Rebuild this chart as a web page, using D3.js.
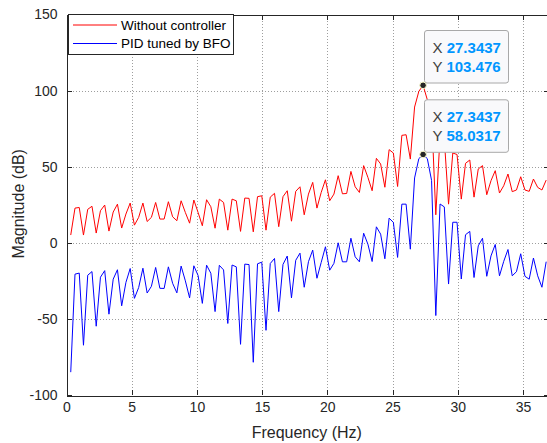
<!DOCTYPE html>
<html lang="en">
<head>
<meta charset="utf-8">
<script src="https://d3js.org/d3.v7.min.js"></script>
<style type="text/css">
body {
	margin: 0;
	background-color: #fff;
	font-family: "Liberation Sans", Arial, Helvetica, sans-serif;
}
.axis text {
	font: 14px "Liberation Sans", Arial, sans-serif;
	fill: #262626;
}
.axis line {
	stroke: #262626;
	shape-rendering: crispEdges;
}
.grid line {
	stroke: #9e9e9e;
	stroke-dasharray: 1.5,1.5;
	shape-rendering: crispEdges;
}
</style>
</head>
<body>
<div class="chart"></div>
<script type="text/javascript">
// spectrum bins (Hz), first plotted bin is k = 1
var df = 27.34375 / 84;

// magnitude (dB), without controller
var withoutCtrl = [5.1, 22.8, 23.2, 5.1, 22.0, 24.0, 6.4, 21.1, 24.8, 7.7,
	20.2, 25.4, 9.7, 18.9, 26.1, 11.6, 16.7, 26.1, 14.0, 16.7,
	26.5, 15.6, 15.6, 27.0, 17.1, 14.5, 27.6, 19.9, 12.9, 28.1,
	19.9, 11.2, 28.3, 23.7, 9.6, 28.7, 26.5, 8.3, 28.7, 27.6,
	7.5, 29.4, 29.2, 7.2, 30.3, 30.9, 8.3, 30.0, 32.5, 10.6,
	30.3, 34.2, 14.2, 33.8, 36.8, 18.4, 32.0, 39.7, 22.8, 33.1,
	41.4, 27.6, 32.0, 44.1, 32.2, 32.4, 46.9, 36.8, 33.1, 50.7,
	43.0, 34.2, 55.5, 51.8, 36.5, 61.2, 59.0, 37.0, 70.6, 71.0,
	55.0, 89.2, 99.5, 103.476, 94.0, 85.0, 18.4, 70.0, 68.0, 25.4,
	59.0, 58.0, 28.7, 52.2, 54.4, 30.0, 48.5, 50.7, 31.6, 40.8,
	47.4, 32.7, 37.5, 45.2, 33.6, 34.7, 43.4, 34.7, 33.8, 41.9,
	36.4, 34.7, 41.2];

// magnitude (dB), PID tuned by BFO
var pidBFO = [-85.0, -20.6, -19.9, -67.3, -21.3, -18.9, -54.8, -22.6, -18.3, -46.9,
	-23.9, -17.7, -41.4, -26.0, -16.9, -36.5, -29.4, -16.7, -33.0, -28.6,
	-16.2, -29.9, -30.0, -15.8, -26.6, -32.9, -15.3, -25.0, -36.2, -15.1,
	-21.5, -39.8, -14.7, -20.0, -45.2, -14.8, -17.8, -53.0, -14.6, -15.8,
	-66.7, -14.0, -14.3, -78.5, -13.8, -12.7, -57.5, -13.6, -10.3, -45.2,
	-14.2, -8.7, -36.2, -11.5, -6.8, -29.2, -12.4, -4.8, -23.3, -12.9,
	-2.6, -18.0, -13.5, 0.0, -12.5, -12.5, 3.0, -9.2, -12.5, 6.3,
	-0.9, -12.3, 10.5, 5.7, -10.5, 16.2, 13.4, -9.6, 25.4, 25.4,
	-4.2, 42.6, 55.3, 58.0317, 55.3, 41.0, -47.8, 25.5, 23.6, -27.1,
	13.5, 13.5, -23.8, 5.3, 7.5, -22.8, -2.0, 3.0, -22.0, -8.6,
	-1.1, -21.7, -12.2, -4.4, -21.7, -19.0, -7.2, -22.0, -23.9, -10.0,
	-21.7, -29.2, -12.4];

var seriesNames = ["Without controller", "PID tuned by BFO"];
var seriesColors = ["#ff0000", "#0000ff"];

var xTicks = [0, 5, 10, 15, 20, 25, 30, 35];
var yTicks = [-100, -50, 0, 50, 100, 150];

// data tips at the resonance peak
var tipIndex = 83;
var tipX = ["27.3437", "27.3437"];
var tipY = ["103.476", "58.0317"];

var width = 547, height = 443;
var x0 = 66.5, x1 = 549, yTop = 14.5, yBot = 395;

var x = d3.scaleLinear().domain([0, 37]).range([x0, x1]);
var y = d3.scaleLinear().domain([-100, 150]).range([yBot, yTop]);
var plain = function(d) { return String(d); };

var svg = d3.select(".chart").append("svg")
	.attr("width", width)
	.attr("height", height);

svg.append("defs").append("clipPath").attr("id", "plotclip")
	.append("rect")
	.attr("x", x0).attr("y", yTop)
	.attr("width", x1 - x0).attr("height", yBot - yTop);

// grid
var grid = svg.append("g").attr("class", "grid");
grid.selectAll(".gx").data(xTicks.filter(function(d) { return d > 0; }))
	.enter().append("line")
	.attr("x1", function(d) { return Math.round(x(d)) + 0.5; })
	.attr("x2", function(d) { return Math.round(x(d)) + 0.5; })
	.attr("y1", yTop).attr("y2", yBot);
grid.selectAll(".gy").data(yTicks.filter(function(d) { return d > -100 && d < 150; }))
	.enter().append("line")
	.attr("y1", function(d) { return Math.round(y(d)) + 0.5; })
	.attr("y2", function(d) { return Math.round(y(d)) + 0.5; })
	.attr("x1", x0).attr("x2", x1);

// lines
var line = d3.line()
	.x(function(d, k) { return x((k + 1) * df); })
	.y(function(d) { return y(d); });

var plot = svg.append("g").attr("clip-path", "url(#plotclip)");
[withoutCtrl, pidBFO].forEach(function(s, j) {
	plot.append("path")
		.datum(s)
		.attr("d", line)
		.style("fill", "none")
		.style("stroke", seriesColors[j])
		.style("stroke-width", 1);
});

// axes, ticks inward on all four sides
svg.append("g").attr("class", "axis")
	.attr("transform", "translate(0," + yBot + ")")
	.call(d3.axisBottom(x).tickValues(xTicks).tickFormat(plain).tickSizeInner(-5).tickSizeOuter(0).tickPadding(7))
	.call(function(g) { g.select(".domain").remove(); });
svg.append("g").attr("class", "axis")
	.attr("transform", "translate(0," + yTop + ")")
	.call(d3.axisTop(x).tickValues(xTicks).tickSizeInner(-5).tickSizeOuter(0).tickFormat(""))
	.call(function(g) { g.select(".domain").remove(); });
svg.append("g").attr("class", "axis")
	.attr("transform", "translate(" + x0 + ",0)")
	.call(d3.axisLeft(y).tickValues(yTicks).tickFormat(plain).tickSizeInner(-5).tickSizeOuter(0).tickPadding(9))
	.call(function(g) { g.select(".domain").remove(); });
svg.append("g").attr("class", "axis")
	.attr("transform", "translate(" + x1 + ",0)")
	.call(d3.axisRight(y).tickValues(yTicks).tickSizeInner(-5).tickSizeOuter(0).tickFormat(""))
	.call(function(g) { g.select(".domain").remove(); });

svg.append("rect")
	.attr("x", Math.round(x0) + 0.5).attr("y", Math.round(yTop) + 0.5)
	.attr("width", Math.round(x1 - x0)).attr("height", Math.round(yBot - yTop))
	.style("fill", "none")
	.style("stroke", "#262626")
	.style("stroke-width", 1)
	.style("shape-rendering", "crispEdges");

// axis labels
svg.append("text")
	.attr("x", (x0 + x1) / 2 - 1)
	.attr("y", 438)
	.attr("text-anchor", "middle")
	.style("font-size", "16px")
	.style("fill", "#262626")
	.text("Frequency (Hz)");
svg.append("text")
	.attr("transform", "translate(24," + ((yTop + yBot) / 2 - 1) + ")rotate(-90)")
	.attr("text-anchor", "middle")
	.style("font-size", "16px")
	.style("fill", "#262626")
	.text("Magnitude (dB)");

// legend
var leg = svg.append("g");
leg.append("rect")
	.attr("x", 68.5).attr("y", 14.5)
	.attr("width", 165).attr("height", 40)
	.style("fill", "#fff")
	.style("stroke", "#262626")
	.style("stroke-width", 1)
	.style("shape-rendering", "crispEdges");
seriesNames.forEach(function(name, j) {
	var ly = 25 + j * 18.5;
	leg.append("line")
		.attr("x1", 73).attr("x2", 117)
		.attr("y1", ly).attr("y2", ly)
		.style("stroke", seriesColors[j])
		.style("stroke-width", 1);
	leg.append("text")
		.attr("x", 121).attr("y", ly + 4.8)
		.style("font-size", "13.5px")
		.style("fill", "#000")
		.text(name);
});

// data tips
var tipSeries = [withoutCtrl, pidBFO];
var tipBoxTop = [30, 99.3];
tipSeries.forEach(function(s, j) {
	var g = svg.append("g");
	var bt = tipBoxTop[j];
	g.append("rect")
		.attr("x", 424.5).attr("y", bt + 0.5)
		.attr("width", 84).attr("height", 52.5)
		.attr("rx", 2.5)
		.style("fill", "#f9f9fb")
		.style("stroke", "#a8a8a8")
		.style("stroke-width", 1);
	[["X", tipX[j]], ["Y", tipY[j]]].forEach(function(row, r) {
		var t = g.append("text")
			.attr("x", 432.5).attr("y", bt + 23 + r * 18.7)
			.style("font-size", "15px");
		t.append("tspan").style("fill", "#404040").text(row[0] + " ");
		t.append("tspan").style("fill", "#0096ff").style("font-weight", "bold").text(row[1]);
	});
	g.append("circle")
		.attr("cx", x((tipIndex + 1) * df))
		.attr("cy", y(s[tipIndex]))
		.attr("r", 3.3)
		.style("fill", "#262626")
		.style("stroke", "#ffffd0")
		.style("stroke-width", 1);
});
</script>
</body>
</html>
